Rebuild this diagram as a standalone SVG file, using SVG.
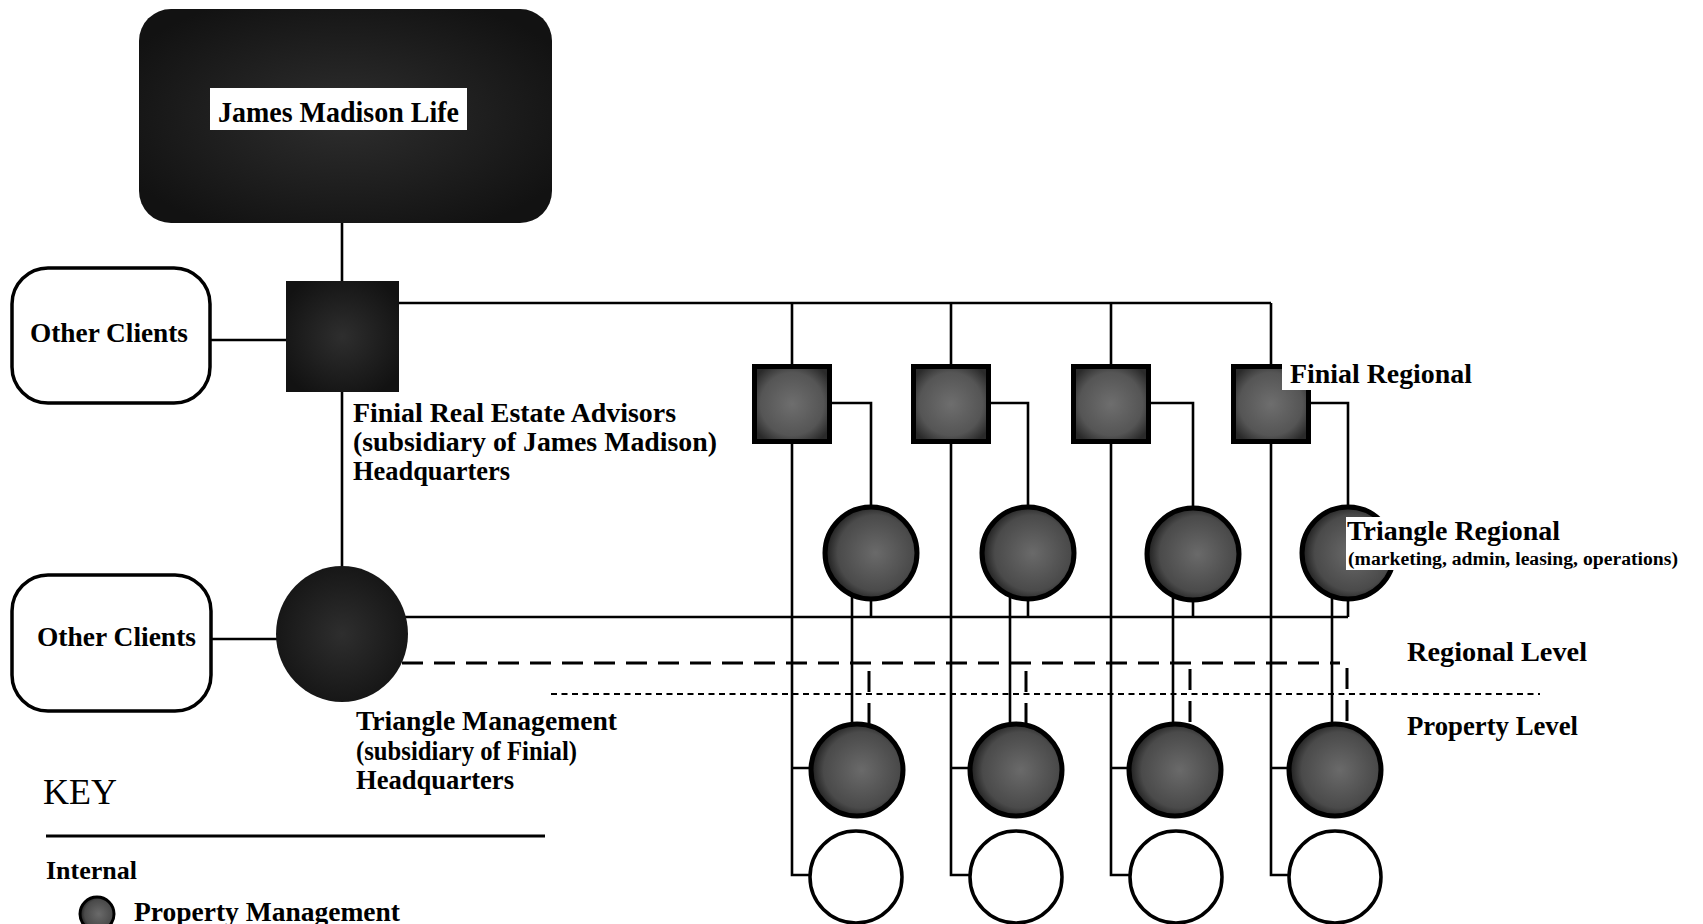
<svg xmlns="http://www.w3.org/2000/svg" width="1703" height="924" viewBox="0 0 1703 924">
<style>
.ln{stroke:#000;stroke-width:2.6;fill:none}
.dash{stroke:#000;stroke-width:3;fill:none;stroke-dasharray:21 11}
.dot{stroke:#000;stroke-width:2.2;fill:none;stroke-dasharray:6 4.5}
.t{font-family:"Liberation Serif","Times New Roman",serif;font-weight:bold;fill:#000}
.tr{font-family:"Liberation Serif","Times New Roman",serif;font-weight:normal;fill:#000}
.sq{fill:url(#gsq);stroke:#000;stroke-width:5}
.rc{fill:url(#gci);stroke:#000;stroke-width:5}
.wc{fill:#fff;stroke:#000;stroke-width:3.5}
.oc{fill:#fff;stroke:#000;stroke-width:3.5}
</style>
<defs>
<radialGradient id="gsq" cx="50%" cy="50%" r="60%">
<stop offset="0" stop-color="#6e6e6e"/><stop offset="0.7" stop-color="#555"/><stop offset="1" stop-color="#2a2a2a"/>
</radialGradient>
<radialGradient id="gci" cx="55%" cy="50%" r="55%">
<stop offset="0" stop-color="#6a6a6a"/><stop offset="0.75" stop-color="#4a4a4a"/><stop offset="1" stop-color="#1c1c1c"/>
</radialGradient>
<radialGradient id="gdk" cx="50%" cy="50%" r="60%">
<stop offset="0" stop-color="#2e2e2e"/><stop offset="1" stop-color="#121212"/>
</radialGradient>
</defs>
<rect width="1703" height="924" fill="#fff"/>

<g id="connectors">
<path class="ln" d="M342,222 V282"/>
<path class="ln" d="M210,340 H286"/>
<path class="ln" d="M342,392 V566"/>
<path class="ln" d="M211,639 H277"/>
<path class="ln" d="M399,303 H1271"/>
<path class="ln" d="M792,303 V875 H809 M792,768 H809"/>
<path class="ln" d="M951,303 V875 H969 M951,768 H968"/>
<path class="ln" d="M1111,303 V875 H1129 M1111,768 H1127"/>
<path class="ln" d="M1271,303 V875 H1288 M1271,768 H1287"/>
<path class="ln" d="M832,403 H871 V617"/>
<path class="ln" d="M991,403 H1028 V617"/>
<path class="ln" d="M1151,403 H1193 V617"/>
<path class="ln" d="M1311,403 H1348 V617"/>
<path class="ln" d="M342,617 H1348"/>
<path class="ln" d="M852,590 V740 M1010,590 V740 M1173,590 V740 M1332,590 V740"/>
<path class="dash" d="M402,663 H1340"/>
<path class="dash" d="M869,671 V735 M1026,671 V735 M1190,669 V735 M1347,668 V735"/>
<path class="dot" d="M551,694 H1540"/>
</g>

<g id="james-madison-life">
<rect x="139" y="9" width="413" height="214" rx="32" fill="url(#gdk)"/>
<rect x="210" y="88" width="257" height="42" fill="#fff"/>
<text class="t" x="218" y="122" font-size="30" textLength="241" lengthAdjust="spacingAndGlyphs">James Madison Life</text>
</g>

<g id="other-clients-1">
<rect class="oc" x="12" y="268" width="198" height="135" rx="36"/>
<text class="t" x="30" y="342" font-size="28" textLength="158" lengthAdjust="spacingAndGlyphs">Other Clients</text>
</g>

<g id="finial-hq">
<rect x="286" y="281" width="113" height="111" fill="url(#gdk)"/>
<text class="t" x="353" y="422" font-size="28" textLength="323" lengthAdjust="spacingAndGlyphs">Finial Real Estate Advisors</text>
<text class="t" x="353" y="451" font-size="28" textLength="364" lengthAdjust="spacingAndGlyphs">(subsidiary of James Madison)</text>
<text class="t" x="353" y="480" font-size="28" textLength="157" lengthAdjust="spacingAndGlyphs">Headquarters</text>
</g>

<g id="other-clients-2">
<rect class="oc" x="12" y="575" width="199" height="136" rx="36"/>
<text class="t" x="37" y="646" font-size="28" textLength="159" lengthAdjust="spacingAndGlyphs">Other Clients</text>
</g>

<g id="triangle-hq">
<ellipse cx="342" cy="634" rx="66" ry="68" fill="url(#gdk)"/>
<text class="t" x="356" y="730" font-size="28" textLength="261" lengthAdjust="spacingAndGlyphs">Triangle Management</text>
<text class="t" x="356" y="760" font-size="28" textLength="221" lengthAdjust="spacingAndGlyphs">(subsidiary of Finial)</text>
<text class="t" x="356" y="789" font-size="28" textLength="158" lengthAdjust="spacingAndGlyphs">Headquarters</text>
</g>

<g id="finial-regional-1"><rect class="sq" x="754.5" y="366.5" width="75" height="75"/></g>
<g id="finial-regional-2"><rect class="sq" x="913.5" y="366.5" width="75" height="75"/></g>
<g id="finial-regional-3"><rect class="sq" x="1073.5" y="366.5" width="75" height="75"/></g>
<g id="finial-regional-4">
<rect class="sq" x="1233.5" y="366.5" width="75" height="75"/>
<rect x="1282" y="358" width="195" height="32" fill="#fff"/>
<text class="t" x="1290" y="383" font-size="28" textLength="182" lengthAdjust="spacingAndGlyphs">Finial Regional</text>
</g>

<g id="triangle-regional-1"><circle class="rc" cx="871" cy="553" r="46"/></g>
<g id="triangle-regional-2"><circle class="rc" cx="1028" cy="553" r="46"/></g>
<g id="triangle-regional-3"><circle class="rc" cx="1193" cy="554" r="46"/></g>
<g id="triangle-regional-4">
<circle class="rc" cx="1348" cy="553" r="46"/>
<rect x="1346" y="517" width="340" height="53" fill="#fff"/>
<text class="t" x="1347" y="540" font-size="27" textLength="213" lengthAdjust="spacingAndGlyphs">Triangle Regional</text>
<text class="t" x="1348" y="565" font-size="18" textLength="330" lengthAdjust="spacingAndGlyphs">(marketing, admin, leasing, operations)</text>
</g>

<g id="property-mgmt-1"><ellipse class="rc" cx="857" cy="770" rx="46" ry="46"/></g>
<g id="property-mgmt-2"><ellipse class="rc" cx="1016" cy="770" rx="46" ry="46"/></g>
<g id="property-mgmt-3"><ellipse class="rc" cx="1175" cy="770" rx="46" ry="46"/></g>
<g id="property-mgmt-4"><ellipse class="rc" cx="1335" cy="770" rx="46" ry="46"/></g>

<g id="property-1"><circle class="wc" cx="856" cy="877" r="46"/></g>
<g id="property-2"><circle class="wc" cx="1016" cy="877" r="46"/></g>
<g id="property-3"><circle class="wc" cx="1176" cy="877" r="46"/></g>
<g id="property-4"><circle class="wc" cx="1335" cy="877" r="46"/></g>

<g id="levels">
<text class="t" x="1407" y="661" font-size="28" textLength="180" lengthAdjust="spacingAndGlyphs">Regional Level</text>
<text class="t" x="1407" y="735" font-size="28" textLength="171" lengthAdjust="spacingAndGlyphs">Property Level</text>
</g>

<g id="key">
<text class="tr" x="43" y="804" font-size="35" textLength="74" lengthAdjust="spacingAndGlyphs">KEY</text>
<path d="M46,836 H545" stroke="#000" stroke-width="3"/>
<text class="t" x="46" y="879" font-size="26" textLength="91" lengthAdjust="spacingAndGlyphs">Internal</text>
<circle cx="97" cy="914" r="17" fill="url(#gci)" stroke="#000" stroke-width="3"/>
<text class="t" x="134" y="921" font-size="28" textLength="266" lengthAdjust="spacingAndGlyphs">Property Management</text>
</g>
</svg>
